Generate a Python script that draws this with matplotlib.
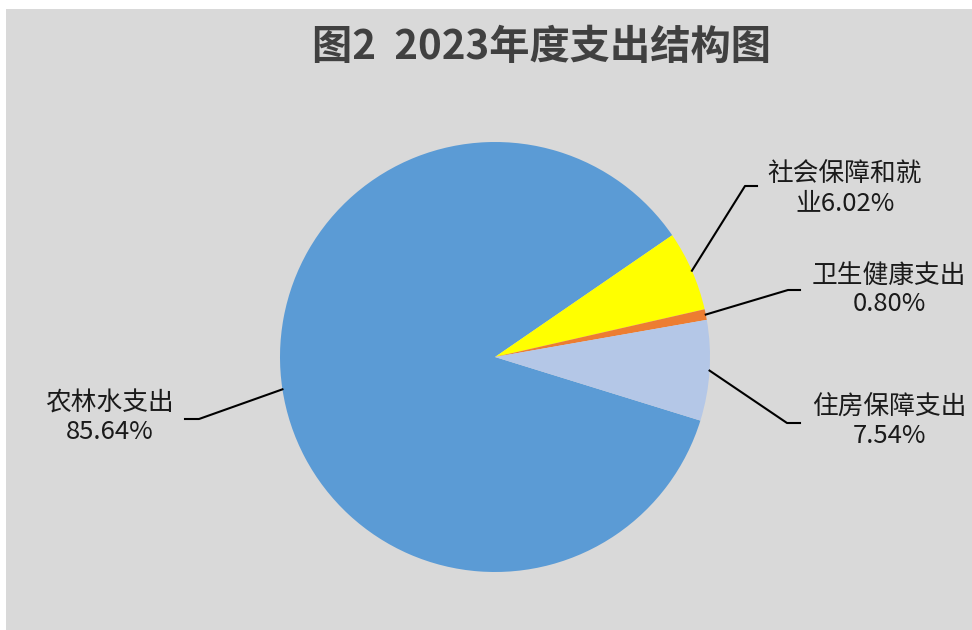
import numpy as np
import matplotlib
matplotlib.use('Agg')
import matplotlib.pyplot as plt
from matplotlib.patches import Rectangle

plt.rcParams['font.family'] = ['Noto Sans CJK SC', 'DejaVu Sans']

# 数据
categories = ['农林水支出', '社会保障和就\n业', '卫生健康支出', '住房保障支出']
shares = [85.64, 6.02, 0.80, 7.54]
colors = ['#5b9bd5', '#ffff00', '#ed7d31', '#b4c7e7']
title = '图2  2023年度支出结构图'

W, H = 972, 630

def py(y):
    # 像素坐标(自上而下) -> 数据坐标
    return H - y

fig = plt.figure(figsize=(W / 100, H / 100), dpi=100, facecolor='white')
ax = fig.add_axes([0, 0, 1, 1])
ax.set_xlim(0, W)
ax.set_ylim(0, H)
ax.set_aspect('equal')
ax.axis('off')

# 灰色背景
ax.add_patch(Rectangle((6, 0), W - 6, H - 9, facecolor='#d9d9d9', edgecolor='none', zorder=0))

cx, cy, r = 495, py(357), 215
start = -17.2
wedges, _ = ax.pie(shares, colors=colors, startangle=start, counterclock=False,
                   center=(cx, cy), radius=r, frame=True,
                   wedgeprops=dict(linewidth=0))
ax.set_xlim(0, W)
ax.set_ylim(0, H)
ax.axis('off')

# 标签位置与引导线拐点(像素)
label_pos = [(110, 418), (845, 189), (889, 290), (889, 422)]
elbows = [((199, 419), (185, 419)),
          ((745, 186), (757, 186)),
          ((788, 290), (800, 290)),
          ((787, 423), (800, 423))]

for w, cat, val, (lx, ly), (e1, e2) in zip(wedges, categories, shares, label_pos, elbows):
    mid = np.deg2rad((w.theta1 + w.theta2) / 2)
    sx = cx + r * np.cos(mid)
    sy = cy + r * np.sin(mid)
    ax.plot([sx, e1[0], e2[0]], [sy, py(e1[1]), py(e2[1])], color='black', lw=1.5, zorder=3)
    if cat.endswith('\n业'):
        txt = f'{cat}{val:.2f}%'
    else:
        txt = f'{cat}\n{val:.2f}%'
    ax.text(lx, py(ly), txt, ha='center', va='center', fontsize=18.5,
            color='#1a1a1a', linespacing=1.12, zorder=4)

ax.text(541, py(47), title, ha='center', va='center', fontsize=29,
        fontweight='bold', color='#404040')

fig.savefig('out.png', dpi=100, facecolor='white')
